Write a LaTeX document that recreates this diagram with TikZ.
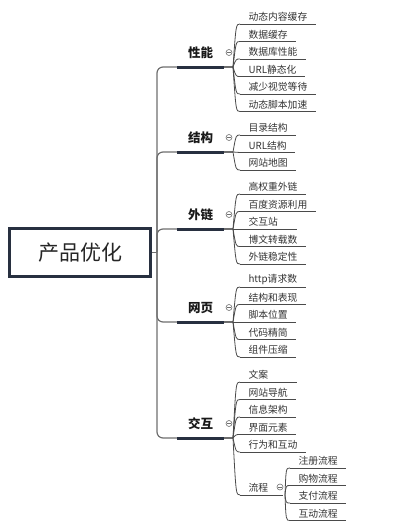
\documentclass[tikz,border=0pt]{standalone}
\usepackage{fontspec}
\setmainfont{Noto Sans CJK SC}
\usepackage{xcolor}
\usetikzlibrary{positioning}
\definecolor{navy}{HTML}{283040}
\definecolor{trunkgrey}{HTML}{6E6E6E}
\definecolor{linegrey}{HTML}{4A4A4A}
\definecolor{textgrey}{HTML}{333333}

\begin{document}
\begin{tikzpicture}
	[x=1pt, y=-1pt,
	root/.style = {draw=navy, line width=3pt, minimum width=141pt, minimum height=48pt, font=\fontsize{21}{24}\selectfont, text=black!85},
	topic/.style = {anchor=south, outer sep=0pt, inner ysep=8pt, minimum width=47pt, font=\bfseries\fontsize{12.5}{14}\selectfont, text=black!90},
	leaf/.style = {anchor=south west, outer sep=0pt, inner xsep=8.5pt, inner ysep=2.5pt, font=\fontsize{9.8}{11}\selectfont, text=textgrey},
	nextleaf/.style = {below=17.5pt of #1.south west, anchor=south west},
	trunk/.style = {draw=trunkgrey, line width=1.2pt},
	thickline/.style = {draw=navy, line width=3pt},
	fan/.style = {draw=linegrey, line width=0.8pt},
	uline/.style = {draw=linegrey, line width=0.9pt},
	knob/.style = {draw=trunkgrey, circle, inner sep=0pt, minimum size=6pt, line width=0.6pt,
		path picture={\draw[trunkgrey, line width=0.6pt] ([xshift=-1.8pt]path picture bounding box.center) -- ([xshift=1.8pt]path picture bounding box.center);}}]
	\useasboundingbox (0,0) rectangle (406,528);

	\node[root] (root) at (80,252.5) {产品优化};
	\coordinate[right=5pt of root.east] (trk);

	% main branches
	\node[topic] (xn) at (200.5,67) {性能};
	\node[topic] (jg) at (200.5,152) {结构};
	\node[topic] (wl) at (200.5,229) {外链};
	\node[topic] (wy) at (200.5,322) {网页};
	\node[topic] (jh) at (200.5,438) {交互};

	\draw[trunk] (root.east) -- (trk);
	\foreach \b in {xn,jg,wl,wy,jh} {
		\draw[trunk, rounded corners=6pt] (trk) |- (\b.south west);
		\draw[trunk] (\b.south east) -- ++(9,0) coordinate (\b-f);
		\draw[thickline] (\b.south west) -- (\b.south east);
		\node[knob] at ([shift={(5,-14.5)}]\b.south east) {};
	}

	% leaves
	\node[leaf] (xn1) at (240,24) {动态内容缓存};
	\node[leaf, nextleaf=xn1] (xn2) {数据缓存};
	\node[leaf, nextleaf=xn2] (xn3) {数据库性能};
	\node[leaf, nextleaf=xn3] (xn4) {URL静态化};
	\node[leaf, nextleaf=xn4] (xn5) {减少视觉等待};
	\node[leaf, nextleaf=xn5] (xn6) {动态脚本加速};

	\node[leaf] (jg1) at (240,135) {目录结构};
	\node[leaf, nextleaf=jg1] (jg2) {URL结构};
	\node[leaf, nextleaf=jg2] (jg3) {网站地图};

	\node[leaf] (wl1) at (240,194) {高权重外链};
	\node[leaf, nextleaf=wl1] (wl2) {百度资源利用};
	\node[leaf, nextleaf=wl2, text width=40pt] (wl3) {交互站};
	\node[leaf, nextleaf=wl3] (wl4) {博文转载数};
	\node[leaf, nextleaf=wl4] (wl5) {外链稳定性};

	\node[leaf] (wy1) at (240,287) {http请求数};
	\node[leaf, nextleaf=wy1] (wy2) {结构和表现};
	\node[leaf, nextleaf=wy2] (wy3) {脚本位置};
	\node[leaf, nextleaf=wy3] (wy4) {代码精简};
	\node[leaf, nextleaf=wy4] (wy5) {组件压缩};

	\node[leaf, text width=40pt] (jh1) at (240,382) {文案};
	\node[leaf, nextleaf=jh1] (jh2) {网站导航};
	\node[leaf, nextleaf=jh2] (jh3) {信息架构};
	\node[leaf, nextleaf=jh3] (jh4) {界面元素};
	\node[leaf, nextleaf=jh4] (jh5) {行为和互动};
	\node[leaf, text width=26pt] (jh6) at (240,495) {流程};

	\node[leaf] (lc1) at (290,468) {注册流程};
	\node[leaf, nextleaf=lc1] (lc2) {购物流程};
	\node[leaf, nextleaf=lc2] (lc3) {支付流程};
	\node[leaf, nextleaf=lc3] (lc4) {互动流程};

	\coordinate[right=2pt of jh6.south east] (lc-f);
	\node[knob] at ([shift={(-3,-8)}]jh6.south east) {};

	\foreach \b/\n in {xn/6,jg/3,wl/5,wy/5,jh/6,lc/4}
		\foreach \i in {1,...,\n} {
			\draw[fan] (\b-f) .. controls ([xshift=-4pt]\b\i.south west) .. (\b\i.south west);
			\draw[uline] (\b\i.south west) -- (\b\i.south east);
		}
\end{tikzpicture}
\end{document}
